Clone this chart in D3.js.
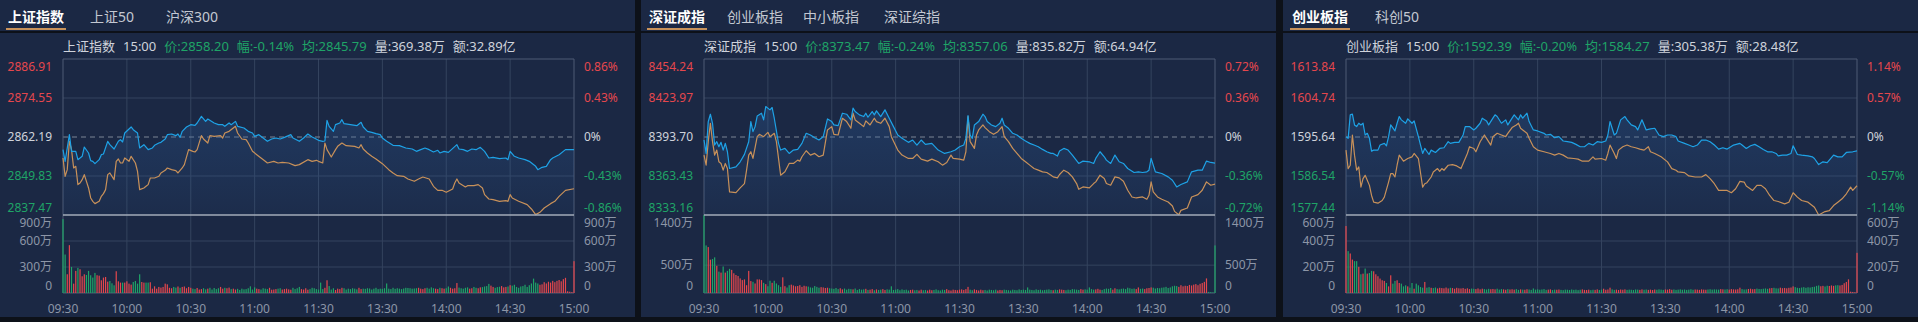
<!DOCTYPE html>
<html>
<head>
<meta charset="utf-8">
<script src="https://cdn.jsdelivr.net/npm/d3@7"></script>
<style>
html, body { margin: 0; padding: 0; background: #0d1119; }
svg { display: block; }
</style>
</head>
<body>
<svg id="chart" width="1918" height="322"></svg>
<script>
// ---- data (minute index: 0 = 09:30, 120 = 11:30/13:00, 240 = 15:00) ----
var xTickMinutes = [0, 30, 60, 90, 120, 150, 180, 210, 240];
var xTickLabels = ["09:30", "10:00", "10:30", "11:00", "11:30", "13:30", "14:00", "14:30", "15:00"];

var shTabs = ["上证指数", "上证50", "沪深300"];
var szTabs = ["深证成指", "创业板指", "中小板指", "深证综指"];
var cyTabs = ["创业板指", "科创50"];

var shInfo = ["上证指数", "15:00", "价:2858.20", "幅:-0.14%", "均:2845.79", "量:369.38万", "额:32.89亿"];
var szInfo = ["深证成指", "15:00", "价:8373.47", "幅:-0.24%", "均:8357.06", "量:835.82万", "额:64.94亿"];
var cyInfo = ["创业板指", "15:00", "价:1592.39", "幅:-0.20%", "均:1584.27", "量:305.38万", "额:28.48亿"];

var shPriceTicks = [2886.91, 2874.55, 2862.19, 2849.83, 2837.47];
var szPriceTicks = [8454.24, 8423.97, 8393.70, 8363.43, 8333.16];
var cyPriceTicks = [1613.84, 1604.74, 1595.64, 1586.54, 1577.44];
var shPctTicks = ["0.86%", "0.43%", "0%", "-0.43%", "-0.86%"];
var szPctTicks = ["0.72%", "0.36%", "0%", "-0.36%", "-0.72%"];
var cyPctTicks = ["1.14%", "0.57%", "0%", "-0.57%", "-1.14%"];

var shVolTicks = [0, 300, 600, 900];
var szVolTicks = [0, 500, 1400];
var cyVolTicks = [0, 200, 400, 600];

var shPrice = [[0,2858.18],[1,2854.48],[3,2862.93],[4,2857.65],[6,2857.65],[7,2855.01],[9,2856.07],[10,2859.02],[12,2857.12],[13,2854.69],[14,2854.48],[15,2853.74],[17,2855.01],[18,2856.59],[19,2856.80],[21,2860.82],[22,2859.76],[24,2858.39],[26,2860.82],[27,2861.35],[28,2860.61],[29,2863.46],[31,2864.72],[32,2865.36],[33,2864.51],[35,2863.46],[36,2858.71],[38,2859.76],[40,2858.18],[42,2858.71],[43,2859.55],[45,2860.29],[46,2860.50],[48,2861.56],[49,2862.93],[51,2863.14],[53,2862.61],[54,2863.14],[55,2862.08],[56,2863.99],[58,2865.36],[60,2866.10],[62,2865.89],[63,2866.63],[65,2868.74],[67,2867.15],[68,2867.89],[71,2866.63],[73,2866.10],[75,2866.10],[76,2865.57],[78,2866.63],[79,2866.10],[81,2867.15],[82,2865.57],[85,2865.04],[87,2863.99],[89,2863.46],[90,2862.40],[92,2862.93],[94,2861.87],[96,2860.82],[98,2861.56],[100,2861.87],[102,2861.56],[104,2862.08],[107,2862.93],[108,2861.87],[111,2860.82],[113,2861.87],[115,2863.14],[117,2862.19],[118,2861.87],[120,2861.13],[122,2860.82],[123,2860.92],[124,2867.47],[125,2865.57],[127,2863.99],[128,2866.10],[130,2866.63],[131,2867.68],[132,2866.41],[135,2866.10],[138,2865.78],[140,2866.84],[141,2865.36],[143,2863.99],[145,2863.67],[147,2863.25],[149,2862.93],[150,2861.87],[152,2860.82],[155,2859.55],[158,2859.44],[161,2858.71],[164,2858.39],[166,2857.65],[168,2858.18],[170,2858.71],[172,2858.18],[174,2857.44],[176,2857.97],[177,2857.12],[179,2857.65],[181,2857.33],[185,2859.76],[186,2858.39],[188,2858.18],[190,2857.65],[192,2858.39],[194,2858.18],[196,2858.92],[198,2857.65],[200,2855.54],[202,2855.75],[205,2855.33],[208,2855.54],[209,2855.01],[210,2857.65],[212,2856.07],[214,2855.54],[217,2855.01],[219,2854.48],[222,2852.90],[223,2851.84],[225,2852.58],[227,2852.90],[229,2855.01],[230,2855.54],[233,2856.59],[236,2858.18],[240,2858.20]];
var shAvg = [[0,2855.54],[1,2849.73],[2,2851.84],[3,2860.82],[4,2858.18],[5,2852.37],[6,2852.90],[7,2847.09],[8,2847.62],[9,2848.67],[10,2850.26],[12,2846.03],[13,2842.87],[14,2841.81],[15,2841.07],[17,2841.81],[18,2843.39],[19,2844.24],[20,2845.51],[21,2850.26],[22,2850.79],[24,2848.67],[25,2854.48],[26,2855.22],[27,2853.95],[28,2853.95],[29,2855.54],[31,2854.48],[32,2856.07],[34,2853.95],[35,2851.31],[36,2845.51],[38,2846.03],[39,2846.56],[40,2847.09],[41,2849.20],[43,2849.20],[45,2849.73],[46,2850.79],[48,2851.63],[49,2852.37],[51,2851.84],[53,2851.52],[54,2850.79],[56,2852.37],[57,2853.43],[59,2858.18],[61,2857.65],[62,2857.44],[63,2858.18],[65,2862.61],[66,2861.56],[68,2860.29],[69,2862.61],[71,2862.40],[74,2862.61],[75,2861.87],[76,2863.46],[78,2863.99],[80,2865.04],[81,2865.57],[82,2863.46],[84,2861.56],[86,2861.35],[87,2860.29],[89,2857.65],[91,2856.59],[93,2855.54],[95,2854.48],[96,2853.95],[99,2854.48],[101,2853.95],[103,2854.16],[106,2853.95],[109,2853.11],[111,2853.43],[115,2855.01],[117,2854.48],[119,2854.80],[120,2854.48],[122,2853.95],[123,2860.29],[124,2858.18],[126,2855.85],[128,2858.18],[129,2859.23],[131,2860.29],[133,2859.44],[137,2859.23],[139,2858.71],[140,2859.76],[141,2858.39],[143,2857.12],[145,2856.07],[147,2855.22],[150,2853.74],[153,2851.84],[155,2850.79],[157,2849.94],[160,2849.73],[162,2848.88],[165,2848.15],[167,2848.88],[169,2849.52],[172,2848.88],[174,2846.56],[176,2845.29],[178,2845.29],[180,2844.66],[183,2845.72],[184,2847.62],[185,2848.88],[186,2847.62],[189,2846.35],[190,2846.77],[193,2846.77],[195,2847.09],[197,2846.03],[198,2843.92],[200,2842.55],[202,2842.34],[205,2841.81],[208,2842.02],[209,2841.81],[210,2843.92],[211,2842.87],[214,2841.81],[218,2840.75],[220,2839.38],[222,2837.59],[224,2838.32],[226,2839.70],[229,2841.07],[231,2841.81],[233,2843.39],[236,2845.29],[240,2845.79]];

var szPrice = [[0,8391.36],[1,8380.96],[2,8405.66],[3,8411.38],[4,8404.36],[5,8387.46],[6,8390.06],[7,8386.16],[8,8389.54],[9,8383.56],[10,8388.76],[11,8382.26],[12,8369.26],[15,8370.56],[17,8374.46],[19,8380.18],[21,8390.06],[22,8405.66],[23,8397.86],[24,8401.76],[25,8410.08],[27,8412.16],[28,8406.96],[29,8417.36],[31,8414.76],[32,8416.58],[33,8408.26],[35,8388.76],[36,8383.56],[38,8384.86],[40,8380.96],[42,8383.56],[44,8384.08],[46,8388.76],[48,8396.56],[50,8395.26],[52,8393.18],[54,8391.36],[56,8393.96],[58,8407.74],[60,8405.66],[61,8403.06],[63,8402.54],[65,8412.16],[67,8411.38],[69,8406.96],[70,8416.06],[71,8413.46],[73,8410.86],[75,8409.56],[76,8412.16],[77,8409.04],[79,8413.46],[80,8410.86],[81,8413.98],[83,8409.56],[85,8414.76],[87,8408.26],[89,8401.76],[91,8395.26],[93,8392.66],[96,8389.54],[98,8391.36],[100,8387.46],[102,8391.36],[104,8387.98],[107,8388.76],[110,8383.56],[113,8380.96],[116,8382.26],[118,8383.56],[120,8386.16],[122,8387.46],[123,8392.66],[124,8410.34],[125,8395.26],[126,8392.66],[127,8403.06],[129,8405.66],[131,8411.38],[132,8409.56],[133,8405.66],[135,8403.06],[137,8401.76],[139,8404.36],[140,8408.26],[141,8403.06],[143,8400.46],[145,8396.56],[147,8395.26],[149,8392.66],[151,8390.58],[153,8388.76],[155,8387.46],[157,8386.16],[159,8384.08],[161,8382.26],[163,8380.96],[164,8380.96],[166,8378.88],[167,8382.78],[169,8384.86],[171,8383.56],[173,8379.66],[176,8373.16],[178,8374.98],[181,8374.46],[183,8373.16],[184,8377.06],[186,8382.26],[188,8378.36],[189,8375.76],[191,8373.16],[193,8379.66],[195,8374.46],[197,8373.16],[199,8369.26],[202,8366.14],[204,8366.66],[206,8366.14],[208,8366.66],[209,8367.96],[210,8377.06],[211,8371.86],[212,8366.66],[215,8365.36],[218,8362.76],[220,8360.16],[222,8354.96],[224,8356.78],[227,8358.86],[229,8366.66],[232,8367.96],[234,8367.96],[236,8374.98],[238,8373.94],[240,8373.47]];
var szAvg = [[0,8379.66],[1,8371.86],[2,8390.06],[3,8404.36],[4,8390.06],[5,8379.66],[6,8383.56],[7,8374.46],[8,8373.16],[9,8367.96],[10,8373.16],[11,8369.26],[12,8351.06],[15,8350.54],[17,8354.18],[19,8357.56],[20,8367.96],[21,8379.66],[22,8382.26],[23,8377.06],[25,8393.96],[26,8395.78],[28,8393.96],[30,8397.34],[31,8393.96],[33,8396.56],[34,8390.06],[36,8364.06],[38,8366.66],[40,8373.16],[42,8373.16],[44,8375.76],[45,8374.98],[46,8378.36],[48,8383.04],[50,8379.66],[52,8380.96],[54,8378.36],[56,8379.66],[58,8399.16],[60,8401.76],[61,8395.78],[63,8395.26],[65,8408.26],[67,8405.66],[69,8400.46],[70,8412.16],[71,8406.96],[73,8404.36],[75,8401.76],[76,8406.18],[78,8403.06],[80,8408.26],[81,8405.66],[83,8404.36],[85,8408.26],[87,8401.76],[88,8393.96],[91,8383.56],[93,8379.66],[96,8377.06],[98,8377.06],[100,8380.18],[102,8376.54],[105,8374.98],[107,8376.54],[110,8374.46],[112,8371.86],[114,8373.94],[116,8379.66],[117,8377.06],[120,8376.54],[122,8375.76],[123,8382.26],[124,8409.56],[125,8390.06],[127,8384.86],[128,8395.26],[129,8399.16],[131,8403.06],[132,8400.98],[134,8397.86],[136,8395.78],[138,8397.86],[140,8401.76],[141,8393.96],[143,8390.06],[145,8384.86],[147,8380.96],[149,8377.06],[151,8374.46],[153,8371.86],[155,8369.26],[157,8367.96],[159,8366.66],[161,8366.14],[163,8364.06],[164,8362.76],[166,8361.98],[167,8364.58],[169,8367.96],[171,8366.14],[173,8362.76],[175,8357.56],[176,8353.14],[178,8354.96],[181,8354.18],[183,8357.56],[184,8358.86],[186,8364.06],[188,8361.46],[189,8357.56],[191,8356.26],[193,8362.76],[195,8361.98],[197,8359.38],[199,8352.36],[201,8347.16],[203,8346.38],[206,8347.16],[208,8345.34],[209,8348.46],[210,8358.86],[211,8351.06],[213,8347.16],[215,8345.34],[218,8343.26],[220,8340.14],[221,8335.98],[223,8333.38],[224,8336.76],[227,8338.58],[229,8347.16],[232,8348.98],[234,8352.36],[236,8358.86],[238,8356.26],[240,8357.06]];

var cyPrice = [[0,1595.72],[1,1595.33],[2,1600.81],[3,1600.97],[4,1598.46],[5,1598.07],[6,1598.85],[7,1598.46],[8,1598.85],[9,1596.11],[10,1596.50],[11,1595.33],[12,1592.35],[13,1592.58],[15,1592.58],[16,1593.76],[18,1594.15],[19,1593.60],[20,1595.72],[21,1598.46],[23,1597.05],[24,1598.85],[25,1600.42],[26,1599.64],[28,1598.85],[29,1599.87],[31,1598.85],[32,1599.40],[34,1595.72],[35,1593.76],[36,1591.80],[37,1592.97],[39,1591.56],[40,1592.58],[42,1592.03],[44,1592.97],[46,1593.13],[48,1594.54],[49,1594.15],[51,1594.39],[53,1594.39],[55,1596.11],[56,1598.07],[58,1598.07],[60,1597.29],[61,1597.68],[63,1598.85],[64,1600.03],[66,1599.40],[67,1598.46],[69,1600.03],[70,1600.81],[71,1600.42],[73,1598.85],[75,1599.64],[76,1598.46],[78,1600.03],[79,1600.81],[81,1599.64],[82,1600.81],[83,1600.03],[85,1601.21],[86,1599.25],[88,1597.29],[90,1597.05],[93,1596.50],[94,1596.11],[96,1596.27],[98,1595.48],[100,1595.72],[102,1594.70],[104,1594.54],[106,1594.39],[108,1593.92],[110,1593.37],[112,1593.37],[114,1594.15],[116,1593.76],[118,1594.54],[120,1594.39],[122,1594.70],[123,1596.11],[124,1599.25],[126,1596.11],[127,1596.50],[129,1599.64],[131,1600.42],[132,1599.64],[134,1598.46],[136,1598.07],[137,1597.29],[139,1599.64],[141,1597.29],[143,1597.52],[145,1597.68],[147,1596.11],[149,1595.72],[151,1596.11],[153,1596.11],[155,1595.72],[156,1594.70],[159,1594.15],[161,1593.76],[163,1593.37],[165,1593.76],[167,1594.93],[169,1594.93],[171,1594.54],[173,1593.76],[175,1592.82],[177,1593.13],[179,1592.82],[180,1593.13],[182,1593.76],[185,1594.15],[186,1593.76],[188,1592.97],[190,1593.60],[192,1593.92],[194,1593.37],[196,1592.74],[198,1592.19],[200,1592.19],[202,1591.80],[203,1591.25],[205,1591.41],[207,1591.41],[209,1591.80],[210,1593.60],[212,1591.56],[214,1591.41],[217,1591.25],[219,1591.01],[220,1590.62],[222,1589.21],[224,1589.84],[226,1589.68],[229,1591.41],[231,1591.01],[233,1591.01],[235,1592.03],[238,1592.19],[240,1592.39]];
var cyAvg = [[0,1592.58],[1,1588.27],[2,1589.05],[3,1596.11],[4,1591.41],[5,1587.88],[6,1588.66],[7,1583.96],[8,1585.92],[9,1586.70],[11,1584.35],[12,1582.00],[13,1580.43],[15,1580.20],[17,1580.82],[18,1581.61],[20,1585.13],[21,1587.09],[22,1587.09],[23,1586.31],[24,1589.05],[25,1591.41],[27,1590.00],[29,1590.62],[31,1591.01],[32,1591.80],[34,1590.62],[36,1583.96],[37,1584.74],[38,1584.98],[40,1586.31],[41,1587.49],[43,1588.27],[44,1587.64],[45,1588.27],[46,1587.88],[48,1589.05],[50,1589.21],[52,1588.90],[54,1588.27],[55,1589.45],[57,1591.80],[58,1593.37],[60,1592.97],[61,1592.19],[63,1594.54],[65,1596.11],[66,1595.33],[68,1593.76],[69,1595.72],[71,1596.50],[73,1596.11],[75,1595.72],[76,1596.50],[78,1597.84],[80,1598.46],[81,1598.85],[82,1597.68],[83,1597.29],[85,1596.50],[86,1595.33],[88,1593.37],[90,1592.58],[93,1592.19],[96,1591.80],[98,1591.41],[100,1591.80],[102,1591.41],[104,1590.78],[107,1590.62],[109,1590.47],[111,1590.00],[114,1590.00],[116,1591.01],[117,1590.47],[120,1590.62],[122,1590.23],[123,1591.80],[124,1593.76],[126,1591.80],[127,1590.62],[128,1592.58],[130,1593.37],[132,1593.76],[134,1593.37],[136,1593.13],[138,1592.82],[140,1592.58],[142,1593.37],[143,1592.19],[145,1591.80],[148,1591.01],[151,1589.84],[153,1588.27],[155,1587.88],[156,1587.49],[159,1587.33],[161,1586.55],[164,1586.31],[167,1586.31],[169,1586.86],[171,1585.92],[173,1584.74],[175,1583.17],[178,1583.17],[179,1583.17],[181,1582.63],[183,1583.57],[185,1585.29],[187,1585.13],[188,1584.19],[191,1583.17],[193,1584.35],[195,1584.35],[197,1583.57],[199,1582.00],[201,1580.82],[203,1580.59],[206,1580.04],[208,1580.43],[210,1582.63],[212,1581.61],[214,1580.82],[217,1580.43],[220,1579.25],[222,1577.45],[225,1578.24],[227,1578.47],[229,1579.65],[231,1580.43],[233,1581.21],[235,1582.39],[237,1583.96],[238,1583.17],[240,1584.27]];

// volume per minute, 万
var shVol = [853,444,216,552,301,108,255,290,274,193,216,208,255,205,178,232,205,200,147,178,185,131,139,112,89,251,135,120,120,120,
  135,108,97,127,139,108,216,127,120,120,120,124,50,77,50,70,62,70,108,100,60,55,70,62,75,60,70,75,55,70,
  60,50,45,58,40,45,55,42,50,60,40,58,45,55,70,50,60,55,62,45,50,40,48,35,50,42,45,55,77,40,
  65,50,45,40,55,50,45,60,38,40,45,50,55,40,45,50,42,38,60,45,55,70,45,40,55,38,45,60,55,45,40,
  120,45,60,147,80,40,55,35,50,45,60,55,40,50,45,55,50,42,60,45,50,48,55,52,40,50,60,45,50,48,
  55,110,50,45,60,48,55,50,45,52,60,58,55,50,52,55,60,50,45,55,60,50,65,55,50,45,60,55,50,55,
  75,60,50,55,115,62,55,50,60,65,50,55,70,60,55,65,68,75,80,105,85,70,60,68,72,80,65,70,75,90,
  85,95,70,60,75,80,95,70,90,110,166,120,110,95,100,125,110,130,120,140,125,140,150,135,160,175,20,15,10,367];
var szVol = [1400,854,824,598,610,640,488,384,366,476,366,397,433,415,354,323,305,262,232,244,140,397,214,201,171,244,244,232,183,159,
  122,220,183,220,171,140,110,281,122,98,140,150,135,120,125,140,110,130,120,115,100,95,125,110,95,105,100,90,95,85,
  80,75,90,70,85,65,80,60,75,70,65,80,55,70,60,65,75,55,60,70,50,65,55,60,70,55,65,60,120,55,
  60,70,50,65,55,60,45,55,60,50,55,45,60,50,55,45,60,50,55,65,50,45,60,55,70,50,45,60,55,50,60,
  65,55,70,110,60,50,65,55,45,60,50,55,45,60,55,50,60,45,55,50,60,55,50,45,60,55,50,65,55,60,
  55,100,60,55,50,65,55,60,50,55,60,65,55,50,60,55,65,60,55,50,60,55,70,65,60,55,70,60,65,60,
  100,70,60,65,75,60,55,70,80,75,90,60,85,70,65,75,80,70,95,85,75,80,70,100,75,80,70,85,90,100,
  95,80,90,85,95,100,110,90,100,120,130,125,110,140,120,130,125,145,135,150,160,140,165,180,200,262,20,15,10,854];
var cyVol = [515,322,304,257,245,245,201,144,149,188,149,154,170,167,144,129,111,98,93,77,51,136,72,93,98,77,72,51,59,51,
  41,77,33,72,59,46,41,85,41,45,40,38,42,35,40,38,36,42,35,40,38,33,40,36,35,38,32,36,30,34,
  32,30,35,28,33,30,27,32,29,31,28,33,26,30,28,25,30,27,29,26,30,24,28,26,25,29,27,24,35,26,
  28,25,27,30,24,26,28,23,26,25,27,24,22,26,25,23,27,24,26,22,25,28,24,23,26,22,25,24,28,23,26,
  33,25,27,41,28,24,26,23,27,25,28,24,26,25,23,27,26,24,28,25,27,24,26,23,27,25,28,26,24,27,
  26,30,25,27,24,26,28,25,27,24,26,29,25,27,26,24,28,26,25,27,29,26,28,27,26,30,28,27,29,26,
  30,28,27,29,41,30,27,28,31,33,29,30,34,31,30,33,35,32,36,38,40,36,35,41,37,39,36,40,42,51,
  45,40,38,42,45,40,44,42,46,48,55,58,52,55,50,56,54,58,55,59,60,58,62,75,85,105,10,8,6,309];

// ---- layout ----
var FONT = '"Noto Sans", "Noto Sans CJK SC", sans-serif';
var PW = 635, PH = 317;
var L = 63, R = 574, PT = 59, PB = 215, VB = 293;
var C = {
  bg: "#1b2844", page: "#0d1119", grid: "#34435e", frame: "#4e5b74", sep: "#a3abb8",
  red: "#e5474d", green: "#1fa467", text: "#cfd3db", axis: "#8d96a7", tab: "#c3c8d2",
  blue: "#1ea2e6", orange: "#c8915a", dash: "#7d8595", line: "#c8925a"
};

var panels = [
  { x0: 0, tabs: shTabs, tabX: [8, 90, 166], info: shInfo, price: shPrice, avg: shAvg, vol: shVol,
    pTicks: shPriceTicks, pct: shPctTicks, vTicks: shVolTicks },
  { x0: 641, tabs: szTabs, tabX: [8, 86, 162, 243], info: szInfo, price: szPrice, avg: szAvg, vol: szVol,
    pTicks: szPriceTicks, pct: szPctTicks, vTicks: szVolTicks },
  { x0: 1283, tabs: cyTabs, tabX: [9, 92], info: cyInfo, price: cyPrice, avg: cyAvg, vol: cyVol,
    pTicks: cyPriceTicks, pct: cyPctTicks, vTicks: cyVolTicks }
];

var svg = d3.select("#chart");
svg.append("rect").attr("width", 1918).attr("height", 322).attr("fill", C.page);

var defs = svg.append("defs");
var grad = defs.append("linearGradient").attr("id", "areaGrad")
  .attr("gradientUnits", "userSpaceOnUse").attr("x1", 0).attr("x2", 0).attr("y1", PT).attr("y2", PB);
grad.append("stop").attr("offset", "0%").attr("stop-color", "#2d5f9e").attr("stop-opacity", 0.42);
grad.append("stop").attr("offset", "100%").attr("stop-color", "#2d5f9e").attr("stop-opacity", 0.08);

panels.forEach(drawPanel);

function drawPanel(p) {
  var g = svg.append("g").attr("transform", "translate(" + p.x0 + ",0)");
  g.append("rect").attr("width", PW).attr("height", PH).attr("fill", C.bg);

  // tabs
  var firstW = 0;
  p.tabs.forEach(function (name, i) {
    var t = g.append("text")
      .attr("x", p.tabX[i]).attr("y", 16)
      .attr("dominant-baseline", "central")
      .attr("font-family", FONT).attr("font-size", 14)
      .attr("font-weight", i === 0 ? "bold" : "normal")
      .attr("fill", i === 0 ? "#ffffff" : C.tab)
      .text(name);
    if (i === 0) firstW = t.node().getComputedTextLength();
  });
  g.append("rect").attr("x", p.tabX[0] - 2).attr("y", 28).attr("width", firstW + 4).attr("height", 2).attr("fill", C.line);
  g.append("rect").attr("x", 0).attr("y", 31).attr("width", PW).attr("height", 2).attr("fill", C.page);

  // info line
  var basePrice = p.pTicks[2];
  var last = p.price[p.price.length - 1][1];
  var chgColor = last >= basePrice ? C.red : C.green;
  var ix = L;
  p.info.forEach(function (s, i) {
    var t = g.append("text")
      .attr("x", ix).attr("y", 46)
      .attr("dominant-baseline", "central")
      .attr("font-family", FONT).attr("font-size", 13)
      .attr("fill", (i >= 2 && i <= 4) ? chgColor : C.text)
      .text(s);
    ix += t.node().getComputedTextLength() + 8;
  });

  var x = d3.scaleLinear().domain([0, 240]).range([L, R]);
  var y = d3.scaleLinear().domain(d3.extent(p.pTicks)).range([PB, PT]);
  var vMax = d3.max(p.vTicks);
  var yv = d3.scaleLinear().domain([0, vMax]).range([VB, PB]);

  // grid
  xTickMinutes.slice(1, -1).forEach(function (m) {
    g.append("line").attr("x1", x(m)).attr("x2", x(m)).attr("y1", PT).attr("y2", VB)
      .attr("stroke", C.grid).attr("stroke-width", 1);
  });
  p.pTicks.forEach(function (v, i) {
    if (i === 0 || i === p.pTicks.length - 1) return;
    g.append("line").attr("x1", L).attr("x2", R).attr("y1", y(v)).attr("y2", y(v))
      .attr("stroke", i === 2 ? C.dash : C.grid).attr("stroke-width", 1)
      .attr("stroke-dasharray", i === 2 ? "5,4" : null);
  });
  p.vTicks.forEach(function (v, i) {
    if (i === 0 || i === p.vTicks.length - 1) return;
    g.append("line").attr("x1", L).attr("x2", R).attr("y1", yv(v)).attr("y2", yv(v))
      .attr("stroke", C.grid).attr("stroke-width", 1);
  });
  // frame
  g.append("line").attr("x1", L).attr("x2", R).attr("y1", PT).attr("y2", PT).attr("stroke", C.frame);
  g.append("line").attr("x1", L).attr("x2", L).attr("y1", PT).attr("y2", VB).attr("stroke", C.frame);
  g.append("line").attr("x1", R).attr("x2", R).attr("y1", PT).attr("y2", VB).attr("stroke", C.frame);
  g.append("line").attr("x1", L).attr("x2", R).attr("y1", VB).attr("y2", VB).attr("stroke", C.frame);

  // price area + lines
  var area = d3.area().x(function (d) { return x(d[0]); }).y0(PB).y1(function (d) { return y(d[1]); });
  var line = d3.line().x(function (d) { return x(d[0]); }).y(function (d) { return y(d[1]); });
  g.append("path").datum(p.price).attr("d", area).attr("fill", "url(#areaGrad)");
  g.append("path").datum(p.avg).attr("d", line).attr("fill", "none")
    .attr("stroke", C.orange).attr("stroke-width", 1.2).attr("stroke-linejoin", "round");
  g.append("path").datum(p.price).attr("d", line).attr("fill", "none")
    .attr("stroke", C.blue).attr("stroke-width", 1.2).attr("stroke-linejoin", "round");

  // volume bars, coloured by the minute's price move
  var priceAt = d3.scaleLinear().domain(p.price.map(function (d) { return d[0]; }))
    .range(p.price.map(function (d) { return d[1]; }));
  g.append("g").selectAll("rect").data(p.vol).enter().append("rect")
    .attr("x", function (d, i) { return x(i) - 0.6; })
    .attr("width", 1.2)
    .attr("y", function (d) { return yv(d); })
    .attr("height", function (d) { return VB - yv(d); })
    .attr("fill", function (d, i) {
      var prev = i === 0 ? basePrice : priceAt(i - 1);
      return priceAt(i) >= prev ? C.red : C.green;
    });

  // price / volume divider
  g.append("line").attr("x1", L).attr("x2", R).attr("y1", PB).attr("y2", PB)
    .attr("stroke", C.sep).attr("stroke-width", 1.5);

  // price labels
  function vOff(i, n) { return i === 0 ? 7 : (i === n - 1 ? -8 : -1); }
  p.pTicks.forEach(function (v, i) {
    var col = i < 2 ? C.red : (i === 2 ? C.text : C.green);
    var yy = y(v) + vOff(i, p.pTicks.length);
    g.append("text").attr("x", L - 11).attr("y", yy).attr("text-anchor", "end")
      .attr("dominant-baseline", "central").attr("font-family", FONT).attr("font-size", 12)
      .attr("fill", col).text(v.toFixed(2));
    g.append("text").attr("x", R + 10).attr("y", yy)
      .attr("dominant-baseline", "central").attr("font-family", FONT).attr("font-size", 12)
      .attr("fill", col).text(p.pct[i]);
  });

  // volume labels (listed from top)
  var vt = p.vTicks.slice().reverse();
  vt.forEach(function (v, i) {
    var yy = yv(v) + vOff(i, vt.length);
    var s = v === 0 ? "0" : v + "万";
    g.append("text").attr("x", L - 11).attr("y", yy).attr("text-anchor", "end")
      .attr("dominant-baseline", "central").attr("font-family", FONT).attr("font-size", 12)
      .attr("fill", C.axis).text(s);
    g.append("text").attr("x", R + 10).attr("y", yy)
      .attr("dominant-baseline", "central").attr("font-family", FONT).attr("font-size", 12)
      .attr("fill", C.axis).text(s);
  });

  // time axis labels
  xTickMinutes.forEach(function (m, i) {
    g.append("text").attr("x", x(m)).attr("y", 308).attr("text-anchor", "middle")
      .attr("dominant-baseline", "central").attr("font-family", FONT).attr("font-size", 12)
      .attr("fill", C.axis).text(xTickLabels[i]);
  });
}
</script>
</body>
</html>
